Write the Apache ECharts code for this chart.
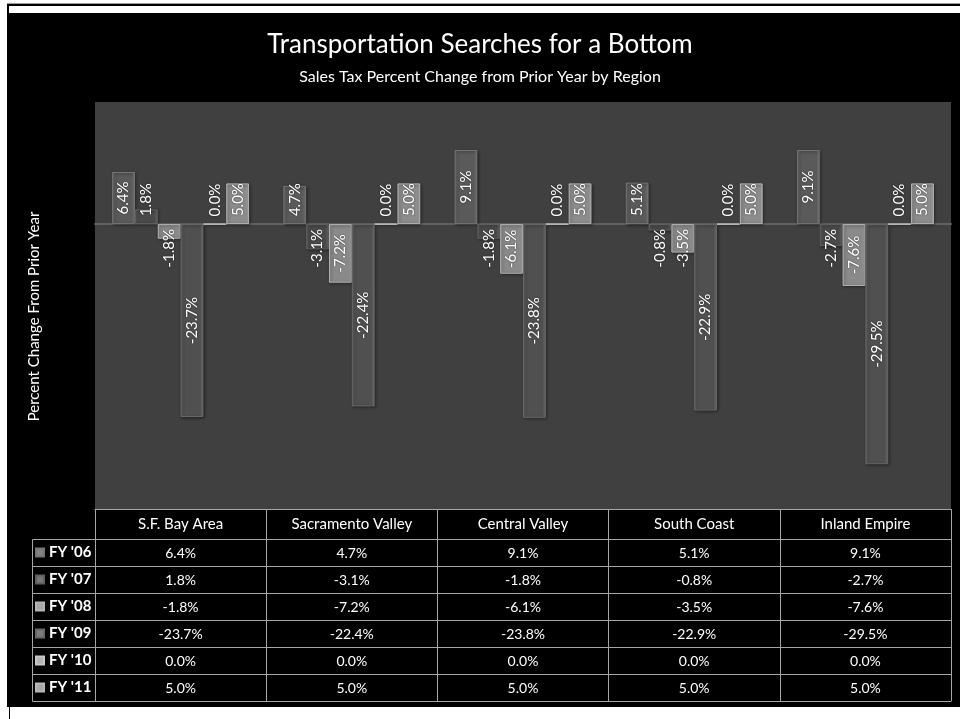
<!DOCTYPE html>
<html>
<head>
<meta charset="utf-8">
<title>Transportation Searches for a Bottom</title>
<script src="https://cdn.jsdelivr.net/npm/echarts@6/dist/echarts.min.js"></script>
<style>
  html, body { margin: 0; padding: 0; background: #fff; }
  #chart { width: 960px; height: 719px; }
</style>
</head>
<body>
<div id="chart"></div>
<script>
// data
const regions = ['S.F. Bay Area', 'Sacramento Valley', 'Central Valley', 'South Coast', 'Inland Empire'];
const years = ["FY '06", "FY '07", "FY '08", "FY '09", "FY '10", "FY '11"];
const fy06 = [6.4, 4.7, 9.1, 5.1, 9.1];
const fy07 = [1.8, -3.1, -1.8, -0.8, -2.7];
const fy08 = [-1.8, -7.2, -6.1, -3.5, -7.6];
const fy09 = [-23.7, -22.4, -23.8, -22.9, -29.5];
const fy10 = [0.0, 0.0, 0.0, 0.0, 0.0];
const fy11 = [5.0, 5.0, 5.0, 5.0, 5.0];
const seriesValues = [fy06, fy07, fy08, fy09, fy10, fy11];

// layout / style
const barColors = ['#5a5a5a', '#4a4a4a', '#8a8a8a', '#505050', '#9a9a9a', '#8c8c8c'];
const lineColor = '#a6a6a6';
const font = 'Lato';
const tableTop = 509;   // plot bottom = table top
const headerH = 30;
const rowH = 27;
const tableH = headerH + rowH * years.length;

const fmt = v => v.toFixed(1) + '%';

// short bars: label starts at the zero line, like the original
function labelFor(v) {
  if (Math.abs(v) >= 6) return { position: 'inside', align: 'center', verticalAlign: 'middle' };
  if (v >= 0) return { position: 'insideBottom', distance: 8, align: 'left', verticalAlign: 'middle' };
  return { position: 'insideTop', distance: 5, align: 'right', verticalAlign: 'middle' };
}

const cellLabel = { color: '#fff', fontSize: 14, fontFamily: font, interval: 0 };
const tableLine = { show: true, onZero: false, lineStyle: { color: lineColor, width: 1 } };

const xAxes = [
  { // bars + zero line
    type: 'category', data: regions,
    axisLine: { onZero: true, lineStyle: { color: '#616161', width: 2 } },
    axisTick: { show: false }, axisLabel: { show: false }
  },
  { // table header
    type: 'category', data: regions, position: 'bottom', offset: 0,
    axisLine: tableLine,
    axisTick: { show: true, interval: 0, length: tableH, lineStyle: { color: lineColor } },
    axisLabel: Object.assign({}, cellLabel, { margin: 8, fontSize: 15 })
  }
];
seriesValues.forEach((vals, i) => {
  xAxes.push({
    type: 'category', data: regions, position: 'bottom', offset: headerH + rowH * i,
    axisLine: tableLine, axisTick: { show: false },
    axisLabel: Object.assign({ margin: 7, formatter: (val, idx) => fmt(vals[idx]) }, cellLabel)
  });
});
xAxes.push({
  type: 'category', data: regions, position: 'bottom', offset: tableH,
  axisLine: tableLine, axisTick: { show: false }, axisLabel: { show: false }
});

const series = seriesValues.map((vals, i) => ({
  name: years[i],
  type: 'bar',
  xAxisIndex: 0,
  barGap: '0%',
  barCategoryGap: '20%',
  itemStyle: {
    color: {
      type: 'linear', x: 0, y: 0, x2: 1, y2: 0,
      colorStops: [
        { offset: 0, color: echarts.color.lift(barColors[i], 0.15) },
        { offset: 0.15, color: barColors[i] },
        { offset: 0.85, color: barColors[i] },
        { offset: 1, color: echarts.color.lift(barColors[i], 0.2) }
      ]
    },
    borderColor: echarts.color.lift(barColors[i], -0.3),
    borderWidth: 1,
    shadowColor: 'rgba(0,0,0,0.5)',
    shadowBlur: 3,
    shadowOffsetX: 1,
    shadowOffsetY: 1
  },
  label: {
    show: true, rotate: 90, color: '#fff', fontSize: 15, fontFamily: font,
    textShadowColor: 'rgba(0,0,0,0.6)', textShadowBlur: 2,
    formatter: p => fmt(p.value)
  },
  data: vals.map(v => ({ value: v, label: labelFor(v) }))
}));

// left column of the data table (legend keys)
const legendLines = [{
  type: 'rect',
  shape: { x: 32.5, y: tableTop + headerH + 0.5, width: 63, height: rowH * years.length },
  style: { fill: null, stroke: lineColor, lineWidth: 1 }
}];
for (let i = 1; i < years.length; i++) {
  const y = tableTop + headerH + rowH * i + 0.5;
  legendLines.push({ type: 'line', shape: { x1: 32, y1: y, x2: 95, y2: y }, style: { stroke: lineColor, lineWidth: 1 } });
}

const chart = echarts.init(document.getElementById('chart'));
chart.setOption({
  animation: false,
  backgroundColor: '#000',
  title: {
    text: 'Transportation Searches for a Bottom',
    subtext: 'Sales Tax Percent Change from Prior Year by Region',
    left: 'center', top: 27, itemGap: 11,
    textStyle: { color: '#fff', fontSize: 26, fontWeight: 'normal', fontFamily: font },
    subtextStyle: { color: '#fff', fontSize: 16, fontFamily: font }
  },
  legend: {
    orient: 'vertical', left: 35, top: tableTop + headerH, padding: 0,
    itemWidth: 8, itemHeight: 8, itemGap: 0, icon: 'rect', selectedMode: false,
    data: years.map((y, i) => ({ name: y, itemStyle: { color: echarts.color.lift(barColors[i], 0.25) } })),
    textStyle: { color: '#fff', fontSize: 15, fontWeight: 'bold', fontFamily: font, lineHeight: rowH }
  },
  grid: {
    left: 95, right: 9, top: 102, bottom: 719 - tableTop,
    show: true, backgroundColor: '#404040', borderWidth: 0
  },
  xAxis: xAxes,
  yAxis: {
    type: 'value', min: -35, max: 15, interval: 5,
    axisLine: { show: false }, axisTick: { show: false }, axisLabel: { show: false }, splitLine: { show: false },
    name: 'Percent Change From Prior Year', nameLocation: 'middle', nameGap: 53,
    nameTextStyle: { color: '#fff', fontSize: 15, fontFamily: font, padding: [0, 22, 0, 0] }
  },
  graphic: [
    // white paper around the black slide
    { type: 'rect', shape: { x: 0, y: 0, width: 7, height: 719 }, style: { fill: '#fff' } },
    { type: 'rect', shape: { x: 0, y: 0, width: 960, height: 3 }, style: { fill: '#fff' } },
    { type: 'rect', shape: { x: 7, y: 3, width: 953, height: 1 }, style: { fill: '#9a9a9a' } },
    { type: 'rect', shape: { x: 9, y: 6, width: 951, height: 7 }, style: { fill: '#fff' } },
    { type: 'rect', shape: { x: 7, y: 707, width: 2, height: 12 }, style: { fill: '#fff' } },
    { type: 'rect', shape: { x: 10, y: 707, width: 950, height: 12 }, style: { fill: '#fff' } }
  ].concat(legendLines),
  series: series
});
</script>
</body>
</html>
